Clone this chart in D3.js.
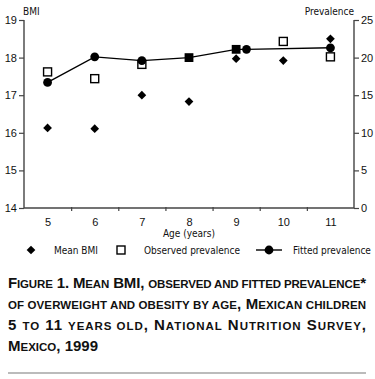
<!DOCTYPE html>
<html>
<head>
<meta charset="utf-8">
<script src="https://cdn.jsdelivr.net/npm/d3@7"></script>
<style>
  body { margin: 0; background: #fff; }
  svg { display: block; font-family: "Liberation Sans Narrow", "DejaVu Sans Condensed", "Liberation Sans", sans-serif; }
</style>
</head>
<body>
<div id="chart"></div>
<script>

//Data
var ages = [5, 6, 7, 8, 9, 10, 11];
var meanBMI = [16.13, 16.11, 17.0, 16.83, 17.97, 17.92, 18.5];
var observedPrev = [18.1, 17.2, 19.1, 20.0, 21.1, 22.15, 20.1];
var fittedAges = [5, 6, 7, 8, 9, 9.22, 11];
var fittedPrev = [16.7, 20.1, 19.6, 20.0, 21.1, 21.1, 21.3];
var bmiTicks = [14, 15, 16, 17, 18, 19];
var prevTicks = [0, 5, 10, 15, 20, 25];
var legendLabels = ["Mean BMI", "Observed prevalence", "Fitted prevalence"];
var captionLines = [
    [["F", 1], ["IGURE", 0], [" 1. M", 1], ["EAN", 0], [" BMI, ", 1], ["OBSERVED AND FITTED PREVALENCE", 0], ["*", 1]],
    [["OF OVERWEIGHT AND OBESITY BY AGE", 0], [", M", 1], ["EXICAN CHILDREN", 0]],
    [["5 ", 1], ["TO", 0], [" 11 ", 1], ["YEARS OLD", 0], [", N", 1], ["ATIONAL", 0], [" N", 1], ["UTRITION", 0], [" S", 1], ["URVEY", 0], [",", 1]],
    [["M", 1], ["EXICO", 0], [", 1999", 1]]
];


//Layout
var svgWidth = 375, svgHeight = 379;
var plotLeft = 24, plotRight = 354, plotTop = 20, plotBottom = 208;
var axisColor = "#444";

var svg = d3.select("#chart").append("svg")
    .attr("width", svgWidth)
    .attr("height", svgHeight);

var x = d3.scaleLinear().domain([4.5, 11.5]).range([plotLeft, plotRight]);
var yL = d3.scaleLinear().domain([14, 19]).range([plotBottom, plotTop]);
var yR = d3.scaleLinear().domain([0, 25]).range([plotBottom, plotTop]);


//Axes
var gL = svg.append("g")
    .attr("transform", "translate(" + plotLeft + ",0)")
    .call(d3.axisLeft(yL).tickValues(bmiTicks).tickSize(5).tickPadding(2).tickFormat(d3.format("d")));

var gR = svg.append("g")
    .attr("transform", "translate(" + plotRight + ",0)")
    .call(d3.axisRight(yR).tickValues(prevTicks).tickSize(5).tickPadding(2).tickFormat(d3.format("d")));

var gX = svg.append("g")
    .attr("transform", "translate(0," + plotBottom + ")")
    .call(d3.axisBottom(x).tickValues(ages).tickSize(0).tickPadding(10).tickFormat(d3.format("d")));

var gXt = svg.append("g")
    .attr("transform", "translate(0," + (plotBottom - 1) + ")")
    .call(d3.axisBottom(x).tickValues(ages.slice(1).map(function(a){ return a - 0.5; })).tickSize(4).tickSizeOuter(0).tickFormat(""));
gXt.select(".domain").remove();

[gL, gR, gX, gXt].forEach(function(g){
    g.select(".domain").attr("stroke", axisColor).attr("stroke-width", 1.4);
    g.selectAll(".tick line").attr("stroke", axisColor).attr("stroke-width", 1.2);
    g.selectAll(".tick text").attr("fill", "#111").style("font-size", "11px");
});
gL.select(".domain").attr("d", "M0," + plotTop + "V" + plotBottom);
gR.select(".domain").attr("d", "M0," + plotTop + "V" + plotBottom);
gX.select(".domain").attr("d", "M" + plotLeft + ",0H" + plotRight);

svg.append("text").attr("x", plotLeft - 1).attr("y", 15)
    .style("font-size", "10px").attr("fill", "#111").text("BMI");
svg.append("text").attr("x", plotRight).attr("y", 15).attr("text-anchor", "end")
    .style("font-size", "10px").attr("fill", "#111").text("Prevalence");
svg.append("text").attr("x", 189).attr("y", 237).attr("text-anchor", "middle")
    .style("font-size", "10px").attr("fill", "#111").text("Age (years)");


//Markers
var diamond = d3.symbol().type(d3.symbolSquare).size(38);
var plot = svg.append("g");

var filled = function(i){
    return fittedAges.some(function(a, j){
        return a === ages[i] && Math.abs(fittedPrev[j] - observedPrev[i]) < 0.2;
    });
};

//Observed prevalence (open squares)
plot.selectAll(".obs")
    .data(ages.filter(function(a, i){ return !filled(i); }))
    .enter()
    .append("rect")
    .attr("x", function(a){ return x(a) - 4; })
    .attr("y", function(a){ return yR(observedPrev[ages.indexOf(a)]) - 4; })
    .attr("width", 8).attr("height", 8)
    .attr("fill", "#fff").attr("stroke", "#000").attr("stroke-width", 1.4);

//Fitted prevalence
var line = d3.line()
    .x(function(d){ return x(d[0]); })
    .y(function(d){ return yR(d[1]); });
var fitted = d3.zip(fittedAges, fittedPrev);

plot.append("path")
    .attr("d", line(fitted))
    .attr("fill", "none").attr("stroke", "#000").attr("stroke-width", 1.4);

plot.selectAll(".fit")
    .data(fitted.filter(function(d){ return ages.indexOf(d[0]) < 0 || !filled(ages.indexOf(d[0])); }))
    .enter()
    .append("circle")
    .attr("cx", function(d){ return x(d[0]); })
    .attr("cy", function(d){ return yR(d[1]); })
    .attr("r", 4.4)
    .attr("fill", "#000");

//Coincident observed / fitted (filled squares)
plot.selectAll(".both")
    .data(ages.filter(function(a, i){ return filled(i); }))
    .enter()
    .append("rect")
    .attr("x", function(a){ return x(a) - 4.4; })
    .attr("y", function(a){ return yR(observedPrev[ages.indexOf(a)]) - 4.4; })
    .attr("width", 8.8).attr("height", 8.8)
    .attr("fill", "#000");

//Mean BMI (diamonds)
plot.selectAll(".bmi")
    .data(d3.zip(ages, meanBMI))
    .enter()
    .append("path")
    .attr("d", diamond)
    .attr("transform", function(d){ return "translate(" + x(d[0]) + "," + yL(d[1]) + ") rotate(45)"; })
    .attr("fill", "#000");


//Legend
var legend = svg.append("g").attr("transform", "translate(0,250)");
legend.append("path").attr("d", diamond)
    .attr("transform", "translate(31,0) rotate(45)").attr("fill", "#000");
legend.append("rect").attr("x", 117).attr("y", -4).attr("width", 8).attr("height", 8)
    .attr("fill", "#fff").attr("stroke", "#000").attr("stroke-width", 1.4);
legend.append("line").attr("x1", 256).attr("x2", 282)
    .attr("stroke", "#000").attr("stroke-width", 1.4);
legend.append("circle").attr("cx", 269).attr("r", 4.4).attr("fill", "#000");
legend.selectAll(".lbl")
    .data(legendLabels)
    .enter()
    .append("text")
    .attr("x", function(d, i){ return [54, 144, 293][i]; })
    .attr("y", 3.5)
    .style("font-size", "10px").attr("fill", "#111")
    .text(function(d){ return d; });


//Caption
var caption = svg.append("g")
    .style("font-family", "'Liberation Sans', Arial, sans-serif")
    .style("font-weight", "bold");
captionLines.forEach(function(parts, i){
    var t = caption.append("text")
        .attr("x", 8)
        .attr("y", 288 + i * 21)
        .attr("fill", "#111");
    if (i < 3) t.attr("textLength", 358).attr("lengthAdjust", "spacing");
    parts.forEach(function(p){
        t.append("tspan")
            .style("font-size", p[1] ? "15px" : "11.5px")
            .text(p[0]);
    });
});

svg.append("line")
    .attr("x1", 8).attr("x2", 366)
    .attr("y1", 373).attr("y2", 373)
    .attr("stroke", "#bbb").attr("stroke-width", 2);

</script>
</body>
</html>
